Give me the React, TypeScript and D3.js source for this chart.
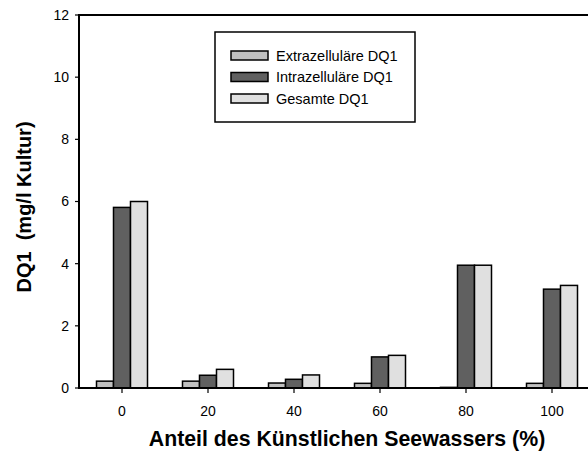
import React from "react";
import * as d3 from "d3";

const categories = ["0", "20", "40", "60", "80", "100"];
const seriesNames = ["Extrazelluläre DQ1", "Intrazelluläre DQ1", "Gesamte DQ1"];
const extracellular = [0.22, 0.22, 0.16, 0.15, 0.02, 0.15];
const intracellular = [5.81, 0.41, 0.28, 1.0, 3.95, 3.18];
const total = [6.0, 0.6, 0.42, 1.05, 3.95, 3.3];
const yTicks = [0, 2, 4, 6, 8, 10, 12];
const seriesColors = ["#c0c0c0", "#606060", "#e0e0e0"];

const W = 588;
const H = 463;
const left = 79;
const right = 595;
const top = 15;
const bottom = 388;
const barW = 17;
const font = "'Liberation Sans', Arial, Helvetica, sans-serif";

export default function App() {
  const x = d3.scaleBand<string>().domain(categories).range([left, right]).padding(0);
  const y = d3.scaleLinear().domain([0, 12]).range([bottom, top]);
  const series = [extracellular, intracellular, total];
  const center = (c: string) => (x(c) as number) + x.bandwidth() / 2;

  return (
    <svg
      width={W}
      height={H}
      style={{ position: "absolute", left: 0, top: 0, background: "#fff" }}
      fontFamily={font}
    >
      {/* bars */}
      {series.map((vals, si) =>
        vals.map((v, ci) => {
          const cx = center(categories[ci]);
          const x0 = cx - 1.5 * barW + si * barW;
          return (
            <rect
              key={`${si}-${ci}`}
              x={x0}
              y={y(v)}
              width={barW}
              height={y(0) - y(v)}
              fill={seriesColors[si]}
              stroke="#000"
              strokeWidth={1.5}
            />
          );
        })
      )}

      {/* frame lines */}
      <line x1={left} x2={W + 10} y1={top} y2={top} stroke="#000" strokeWidth={2} />
      <line x1={left} x2={W + 10} y1={bottom} y2={bottom} stroke="#000" strokeWidth={2} />
      <line x1={left} x2={left} y1={top - 1} y2={bottom + 1} stroke="#000" strokeWidth={2} />

      {/* y ticks */}
      {yTicks.map((t) => (
        <g key={t}>
          <line x1={left - 4} x2={left} y1={y(t)} y2={y(t)} stroke="#000" strokeWidth={1.2} />
          <text x={left - 10} y={y(t)} dy="0.35em" textAnchor="end" fontSize={14}>
            {t}
          </text>
        </g>
      ))}

      {/* x ticks */}
      {categories.map((c) => (
        <g key={c}>
          <line x1={center(c)} x2={center(c)} y1={bottom} y2={bottom + 5} stroke="#000" strokeWidth={1.2} />
          <text x={center(c)} y={416} textAnchor="middle" fontSize={14}>
            {c}
          </text>
        </g>
      ))}

      {/* axis titles */}
      <text x={347} y={446} textAnchor="middle" fontSize={21.3} fontWeight="bold">
        Anteil des Künstlichen Seewassers (%)
      </text>
      <text
        transform={`translate(31,207) rotate(-90)`}
        textAnchor="middle"
        fontSize={20}
        fontWeight="bold"
        style={{ whiteSpace: "pre" }}
      >
        {"DQ1  (mg/l Kultur)"}
      </text>

      {/* legend */}
      <rect x={215} y={32} width={200} height={90} fill="#fff" stroke="#000" strokeWidth={1.5} />
      {seriesNames.map((n, i) => (
        <g key={n}>
          <rect
            x={231}
            y={51 + i * 21.5}
            width={37}
            height={9}
            fill={seriesColors[i]}
            stroke="#000"
            strokeWidth={1.5}
          />
          <text x={276} y={55.5 + i * 21.5} dy="0.35em" fontSize={14.5}>
            {n}
          </text>
        </g>
      ))}
    </svg>
  );
}
